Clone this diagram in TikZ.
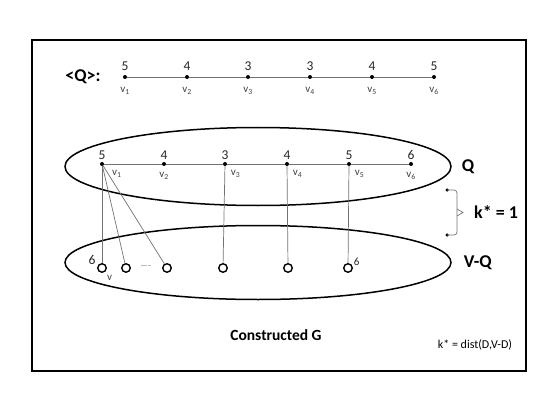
\documentclass[tikz,border=0pt]{standalone}
\usepackage{fontspec}
\setmainfont{Carlito}
\usetikzlibrary{positioning,shapes.geometric}

\begin{document}
\begin{tikzpicture}[
			x=1pt, y=-1pt,
			dot/.style={circle, fill=black, inner sep=0pt, minimum size=4pt},
			hole/.style={circle, draw, line width=1.4pt, fill=white, inner sep=0pt, minimum size=8.5pt},
			num/.style={font=\fontsize{13.5}{13.5}\selectfont, text=black!85, inner sep=1pt},
			vlab/.style={font=\fontsize{11}{11}\selectfont, text=black!75, inner sep=1pt},
			big/.style={font=\fontsize{18}{18}\selectfont\bfseries, inner sep=0pt},
			set/.style={ellipse, draw, line width=1.5pt, inner sep=0pt},
			link/.style={draw=black!55, line width=0.7pt}
			]
			\useasboundingbox (0,0) rectangle (554,409);
			\draw[line width=1.5pt] (32,40) rectangle (526,371);

			% the ordering <Q>
			\tikzset{num/.append style={label distance=3pt}, vlab/.append style={label distance=7pt}}
			\node[big] (qname) at (83,77) {<Q>:};
			\node[dot, label={[num]above:5}, label={[vlab]below:v\textsubscript{1}}] (t1) at (125,77) {};
			\node[dot, label={[num]above:4}, label={[vlab]below:v\textsubscript{2}}] (t2) at (187,77) {};
			\node[dot, label={[num]above:3}, label={[vlab]below:v\textsubscript{3}}] (t3) at (248,77) {};
			\node[dot, label={[num]above:3}, label={[vlab]below:v\textsubscript{4}}] (t4) at (310,77) {};
			\node[dot, label={[num]above:4}, label={[vlab]below:v\textsubscript{5}}] (t5) at (372,77) {};
			\node[dot, label={[num]above:5}, label={[vlab]below:v\textsubscript{6}}] (t6) at (434,77) {};
			\draw[link] (t1) -- (t2) -- (t3) -- (t4) -- (t5) -- (t6);

			% the two sets
			\node[set, minimum width=386pt, minimum height=78pt] (setq) at (258,166.5) {};
			\node[set, minimum width=386pt, minimum height=74pt] (setvq) at (258,262.5) {};
			\node[big, right=10pt of setq] (lq) {Q};
			\node[big, right=12pt of setvq] (lvq) {V-Q};

			\tikzset{num/.append style={label distance=1pt}, vlab/.append style={label distance=5pt}}
			\node[dot, label={[num]above:5}, label={[vlab, label distance=8pt]-30:v\textsubscript{1}}] (q1) at (102,164) {};
			\node[dot, label={[num]above:4}, label={[vlab]below:v\textsubscript{2}}] (q2) at (164,164) {};
			\node[dot, label={[num]above:3}, label={[vlab]-50:v\textsubscript{3}}] (q3) at (225,164) {};
			\node[dot, label={[num]above:4}, label={[vlab]-50:v\textsubscript{4}}] (q4) at (287,164) {};
			\node[dot, label={[num]above:5}, label={[vlab]-50:v\textsubscript{5}}] (q5) at (349,164) {};
			\node[dot, label={[num]above:6}, label={[vlab]below:v\textsubscript{6}}] (q6) at (411,164) {};
			\draw[link] (q1) -- (q2) -- (q3) -- (q4) -- (q5) -- (q6);

			\node[hole, label={[num]155:6}, label={[vlab, label distance=2pt]-55:v}] (c1) at (102,268) {};
			\node[hole] (c2) at (126,268) {};
			\node[hole] (c3) at (167,268) {};
			\node[hole] (c4) at (223,268) {};
			\node[hole] (c5) at (288,268) {};
			\node[hole, label={[num, font=\fontsize{11}{11}\selectfont, inner sep=0pt]20:6}] (c6) at (348,268) {};
			\node[font=\fontsize{8}{8}\selectfont, text=black!55, inner sep=0pt] (gap) at (146,267) {-----};

			\draw[link] (q1) -- (c1);
			\draw[link] (q1) -- (c2);
			\draw[link] (q1) -- (c3);
			\draw[link] (q3) -- (c4);
			\draw[link] (q4) -- (c5);
			\draw[link] (q5) -- (c6);

			% distance between the sets
			\node[dot, minimum size=3.5pt] (kd1) at (447,190) {};
			\node[dot, minimum size=3.5pt] (kd2) at (447,235) {};
			\coordinate (kmid) at (457,212.5);
			\coordinate (ktip) at (463,212.5);
			\draw[link, rounded corners=3pt] (kd1.center) -| (kmid) |- (kd2.center);
			\draw[link] (457,209) -- (ktip) -- (457,216);
			\node[big, right=11pt of ktip] (kval) {k* = 1};

			\node[font=\fontsize{15.5}{15.5}\selectfont\bfseries] (title) at (276,335) {Constructed G};
			\node[font=\fontsize{12}{12}\selectfont] (kdef) at (475,345) {k* = dist(D,V-D)};
		\end{tikzpicture}
\end{document}
